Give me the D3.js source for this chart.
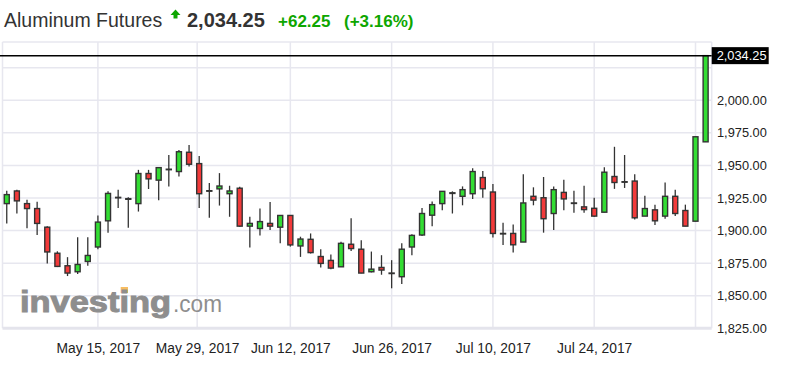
<!DOCTYPE html>
<html>
<head>
<meta charset="utf-8">
<script src="https://cdn.jsdelivr.net/npm/d3@7"></script>
<style>
  html, body { margin: 0; padding: 0; background: #fff; }
  svg { display: block; font-family: "Liberation Sans", Arial, sans-serif; }
</style>
</head>
<body>
<svg id="chart" width="787" height="366"></svg>
<script>
// ---------- DATA ----------
const title = "Aluminum Futures";
const lastPriceText = "2,034.25";
const changeText = "+62.25";
const changePctText = "(+3.16%)";
const lastPrice = 2034.25;

const opens  = [1920.7,1930.4,1920.7,1916.9,1902.6,1882.6,1873.0,1868.4,1876.3,1887.4,
                1907.5,1925.5,1924.0,1920.7,1943.8,1938.7,1947.1,1945.3,1960.1,1951.4,
                1930.6,1932.0,1928.3,1932.5,1903.4,1901.6,1905.5,1902.6,1911.6,1888.2,
                1893.3,1880.1,1877.1,1872.2,1889.5,1885.7,1868.4,1871.7,1867.4,1864.6,
                1887.4,1896.6,1911.8,1920.7,1928.5,1926.3,1928.3,1940.7,1929.6,1897.8,
                1897.8,1891.2,1926.3,1925.2,1913.1,1929.3,1921.2,1918.2,1917.1,1914.1,
                1941.5,1937.5,1938.0,1911.1,1915.9,1911.1,1926.3,1915.4,1907.2,1968.1];
const highs  = [1930.6,1931.4,1923.7,1922.2,1903.4,1884.1,1879.6,1894.8,1894.8,1911.6,
                1930.1,1931.4,1925.5,1946.6,1946.6,1948.3,1958.0,1961.8,1965.6,1957.3,
                1936.5,1944.1,1934.4,1933.6,1910.6,1916.9,1922.0,1911.6,1911.6,1895.3,
                1897.8,1885.7,1881.6,1891.5,1909.5,1892.5,1883.9,1881.1,1877.3,1890.2,
                1897.1,1917.4,1922.4,1930.1,1930.1,1933.9,1947.9,1945.8,1935.7,1906.0,
                1904.7,1943.3,1933.2,1941.1,1933.9,1939.0,1930.6,1934.4,1925.2,1948.6,
                1964.3,1958.0,1943.3,1926.8,1919.9,1936.9,1931.4,1919.9,1972.0,2034.25];
const lows   = [1905.5,1913.1,1901.7,1896.6,1874.8,1872.0,1865.1,1866.6,1873.0,1885.7,
                1898.4,1917.4,1902.2,1914.6,1931.9,1923.2,1933.9,1941.5,1949.1,1917.4,
                1909.8,1919.2,1910.6,1903.0,1887.0,1896.3,1900.4,1890.2,1887.7,1879.8,
                1882.4,1871.7,1870.4,1872.2,1884.4,1867.2,1867.9,1866.1,1855.7,1859.0,
                1881.1,1895.8,1903.4,1915.6,1913.1,1919.4,1924.3,1925.2,1894.6,1889.0,
                1883.1,1891.2,1919.4,1898.4,1900.4,1915.6,1913.6,1913.6,1910.6,1914.1,
                1932.0,1932.7,1908.5,1911.1,1904.2,1909.0,1911.1,1903.4,1907.2,1968.1];
const closes = [1927.6,1922.8,1916.9,1905.5,1883.6,1872.5,1867.4,1874.0,1880.9,1906.5,
                1928.5,1925.5,1924.5,1943.8,1939.7,1948.3,1947.1,1960.5,1950.9,1928.3,
                1930.6,1934.2,1930.4,1903.4,1905.5,1906.9,1903.4,1911.6,1889.0,1893.5,
                1883.1,1874.8,1871.2,1890.2,1886.2,1867.4,1870.4,1869.7,1867.4,1885.7,
                1896.3,1913.1,1919.9,1930.1,1929.0,1931.4,1945.3,1932.1,1897.8,1897.8,
                1889.1,1921.2,1923.4,1909.1,1931.4,1924.3,1921.2,1916.1,1911.1,1944.8,
                1936.9,1937.5,1909.8,1916.9,1907.5,1926.3,1913.1,1903.4,1972.0,2034.25];

// x ticks (trading-day index of each date gridline) and their labels
const xTickIndex  = [9, 18.8, 28, 38, 48, 58, 68];
const xTickLabels = ["May 15, 2017", "May 29, 2017", "Jun 12, 2017", "Jun 26, 2017", "Jul 10, 2017", "Jul 24, 2017", ""];
// y ticks
const yGridTicks  = [1850, 1875, 1900, 1925, 1950, 1975, 2000, 2025];
const yLabelTicks = [1825, 1850, 1875, 1900, 1925, 1950, 1975, 2000];

const candles = opens.map((o, i) => ({ i, o, h: highs[i], l: lows[i], c: closes[i] }));

// ---------- LAYOUT ----------
const svg = d3.select("#chart");
const plot = { left: 2.5, right: 711.7, top: 42, bottom: 328.3 };
const x = d3.scaleLinear().domain([-0.4, candles.length - 0.4]).range([2.7, 711.7]);
const y = d3.scaleLinear().domain([1825, 2025]).range([328.3, 67.7]);

const gridColor = "#e7e7ef";
const green = "#33dd33", red = "#f23a3a", edge = "#333";

// ---------- HEADER ----------
const header = svg.append("g");
header.append("text").attr("x", 4).attr("y", 27).attr("font-size", 19.5).attr("fill", "#333").text(title);
header.append("path")
  .attr("d", "M175.5,9.5 L180.5,15 L177.5,15 L177.5,18.5 L173.5,18.5 L173.5,15 L170.5,15 Z")
  .attr("fill", "#0ea600");
header.append("text").attr("x", 187).attr("y", 27).attr("font-size", 20).attr("font-weight", "bold").attr("fill", "#333").text(lastPriceText);
header.append("text").attr("x", 278).attr("y", 27).attr("font-size", 17).attr("font-weight", "bold").attr("fill", "#0ea600").text(changeText);
header.append("text").attr("x", 344).attr("y", 27).attr("font-size", 17).attr("font-weight", "bold").attr("fill", "#0ea600").text(changePctText);

// ---------- GRID ----------
const grid = svg.append("g");
grid.selectAll("line.h").data(yGridTicks).join("line")
  .attr("x1", plot.left).attr("x2", plot.right)
  .attr("y1", d => y(d)).attr("y2", d => y(d))
  .attr("stroke", gridColor).attr("stroke-width", 1.5);
grid.selectAll("line.v").data(xTickIndex).join("line")
  .attr("x1", d => x(d)).attr("x2", d => x(d))
  .attr("y1", plot.top).attr("y2", plot.bottom)
  .attr("stroke", gridColor).attr("stroke-width", 1.5);
// frame
grid.append("line").attr("x1", plot.left).attr("x2", plot.right).attr("y1", plot.top).attr("y2", plot.top)
  .attr("stroke", gridColor).attr("stroke-width", 1.5);
grid.append("line").attr("x1", plot.left).attr("x2", plot.left).attr("y1", plot.top).attr("y2", plot.bottom)
  .attr("stroke", gridColor).attr("stroke-width", 1.5);
grid.append("line").attr("x1", plot.right).attr("x2", plot.right).attr("y1", plot.top).attr("y2", plot.bottom)
  .attr("stroke", gridColor).attr("stroke-width", 1.5);
grid.append("line").attr("x1", plot.left).attr("x2", plot.right).attr("y1", plot.bottom).attr("y2", plot.bottom)
  .attr("stroke", "#e4e4ec").attr("stroke-width", 3);

// ---------- WATERMARK ----------
const wm = svg.append("g");
wm.append("rect").attr("x", 120.7).attr("y", 287).attr("width", 7.3).attr("height", 6).attr("fill", "#f7bd62");
wm.append("text").attr("x", 20).attr("y", 312).attr("font-size", 30).attr("font-weight", "bold")
  .attr("fill", "#8e8e8e").attr("stroke", "#8e8e8e").attr("stroke-width", 1)
  .attr("textLength", 151).attr("lengthAdjust", "spacingAndGlyphs").text("investing");
wm.append("text").attr("x", 173).attr("y", 312).attr("font-size", 23)
  .attr("fill", "#8e8e8e").attr("textLength", 49).attr("lengthAdjust", "spacingAndGlyphs").text(".com");

// ---------- CANDLES ----------
const bodyW = 5;
const cg = svg.append("g");
const cand = cg.selectAll("g.c").data(candles).join("g");
cand.append("line")
  .attr("x1", d => x(d.i)).attr("x2", d => x(d.i))
  .attr("y1", d => y(d.h)).attr("y2", d => y(d.l))
  .attr("stroke", edge).attr("stroke-width", 1.3);
cand.append("rect")
  .attr("x", d => x(d.i) - bodyW / 2)
  .attr("width", bodyW)
  .attr("y", d => y(Math.max(d.o, d.c)))
  .attr("height", d => Math.max(0.5, Math.abs(y(d.o) - y(d.c))))
  .attr("fill", d => d.c > d.o ? green : (d.c < d.o ? red : edge))
  .attr("stroke", edge).attr("stroke-width", 1.4);

// ---------- LAST PRICE LINE ----------
svg.append("line").attr("x1", 0).attr("x2", plot.right)
  .attr("y1", y(lastPrice)).attr("y2", y(lastPrice))
  .attr("stroke", "#000").attr("stroke-width", 1.5);

// ---------- AXES ----------
const yAxis = d3.axisRight(y).tickValues(yLabelTicks).tickFormat(d3.format(",.2f")).tickSize(0).tickPadding(5);
const yg = svg.append("g").attr("transform", `translate(${plot.right + 0.3},0)`).call(yAxis);
yg.select(".domain").remove();
yg.selectAll("text").attr("font-size", 12.8).attr("fill", "#222").attr("font-family", "Liberation Sans, Arial, sans-serif");

const xAxis = d3.axisBottom(x).tickValues(xTickIndex).tickFormat((d, i) => xTickLabels[i]).tickSize(0).tickPadding(8);
const xg = svg.append("g").attr("transform", `translate(0,335)`).call(xAxis);
xg.select(".domain").remove();
xg.selectAll("text").attr("font-size", 13.8).attr("fill", "#222").attr("font-family", "Liberation Sans, Arial, sans-serif");

// price label box
const lp = svg.append("g");
lp.append("rect").attr("x", plot.right).attr("y", y(lastPrice) - 8.5).attr("width", 57).attr("height", 17).attr("fill", "#000");
lp.append("text").attr("x", plot.right + 5).attr("y", y(lastPrice)).attr("dy", "0.35em")
  .attr("font-size", 12.8).attr("fill", "#fff").text(d3.format(",.2f")(lastPrice));
</script>
</body>
</html>
